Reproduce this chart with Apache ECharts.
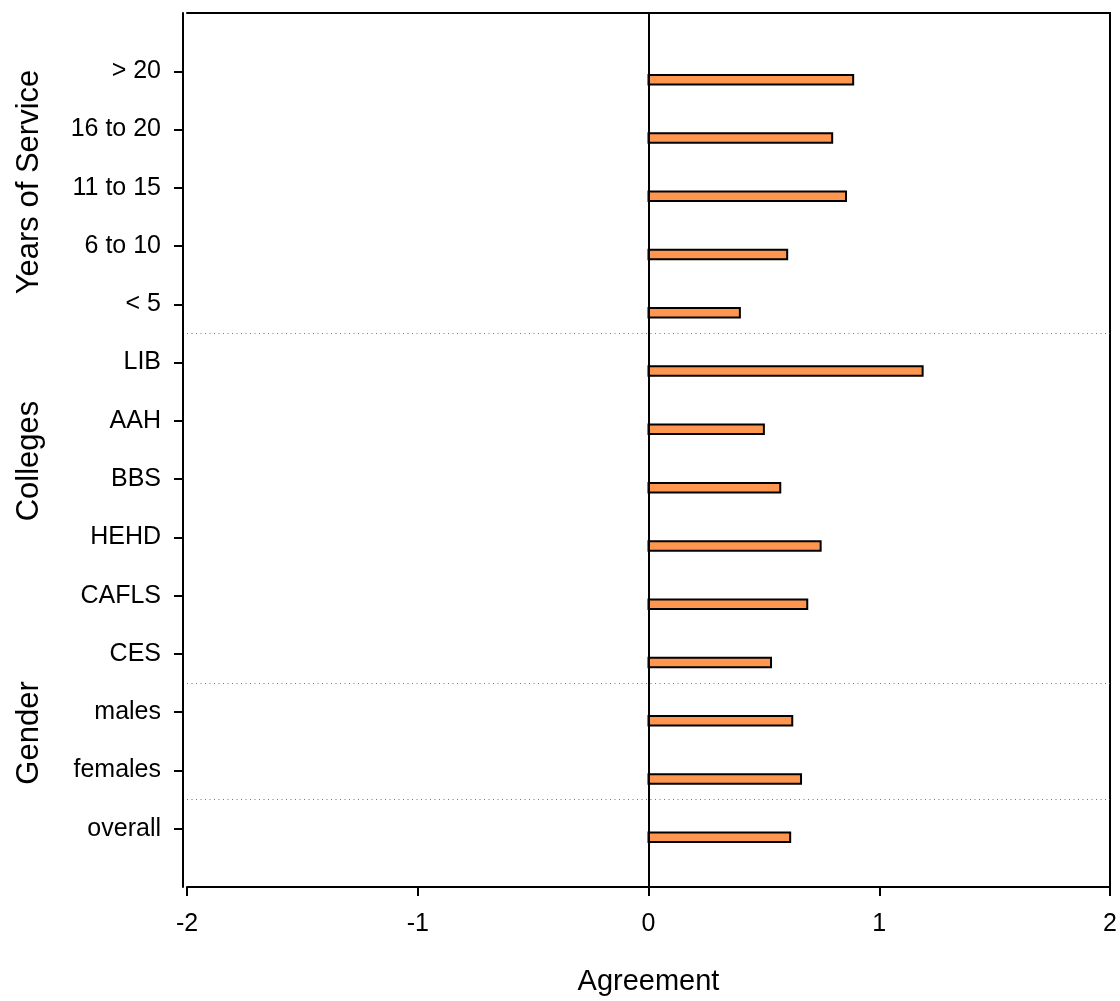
<!DOCTYPE html>
<html>
<head>
<meta charset="utf-8">
<title>Agreement by group</title>
<script src="https://cdn.jsdelivr.net/npm/echarts@6/dist/echarts.min.js"></script>
<style>
  html, body { margin: 0; padding: 0; background: #ffffff; }
  #chart { width: 1120px; height: 1001px; }
</style>
</head>
<body>
<div id="chart"></div>
<script>
// Respondent groups, listed bottom to top on the vertical axis
const categories = ['overall', 'females', 'males', 'CES', 'CAFLS', 'HEHD', 'BBS', 'AAH', 'LIB',
  '< 5', '6 to 10', '11 to 15', '16 to 20', '> 20'];
// Mean agreement score per group
const agreement = [0.614, 0.661, 0.623, 0.531, 0.688, 0.746, 0.571, 0.500, 1.188,
  0.396, 0.601, 0.856, 0.796, 0.887];
// Horizontal axis ticks
const xTicks = [-2, -1, 0, 1, 2];
// Group headings and the index of the first category belonging to each group
const groupNames = ['Gender', 'Colleges', 'Years of Service'];
const groupStarts = [1, 3, 9];

const FONT = '"Liberation Sans", Arial, Helvetica, sans-serif';
const positions = categories.map((_, i) => i + 1);
const dividers = groupStarts.map(s => s + 0.5);

const chart = echarts.init(document.getElementById('chart'), null, { renderer: 'canvas' });

const groupLabel = (text, y) => ({
  type: 'text', x: 29, y: y, rotation: Math.PI / 2,
  style: { text: text, fontFamily: FONT, fontSize: 31, fill: '#000', align: 'center', verticalAlign: 'middle' }
});

const option = {
  backgroundColor: '#ffffff',
  animation: false,
  grid: { left: 187, right: 10, top: 13, bottom: 112, containLabel: false },
  xAxis: [{
    type: 'value',
    min: xTicks[0],
    max: xTicks[xTicks.length - 1],
    interval: 1,
    position: 'bottom',
    name: 'Agreement',
    nameLocation: 'middle',
    nameGap: 80,
    nameTextStyle: { fontFamily: FONT, fontSize: 29, color: '#000' },
    axisLine: { show: true, onZero: false, lineStyle: { color: '#000', width: 2 } },
    axisTick: { show: true, inside: false, length: 9, lineStyle: { color: '#000', width: 2 } },
    axisLabel: { fontFamily: FONT, fontSize: 25, color: '#000', margin: 25 },
    splitLine: { show: false }
  }, {
    type: 'value',
    min: xTicks[0],
    max: xTicks[xTicks.length - 1],
    position: 'top',
    axisLine: { show: true, onZero: false, lineStyle: { color: '#000', width: 2 } },
    axisTick: { show: false },
    axisLabel: { show: false },
    splitLine: { show: false }
  }],
  yAxis: [{
    type: 'value',
    min: 0,
    max: categories.length + 1,
    interval: 1,
    position: 'left',
    offset: 4,
    axisLine: { show: true, onZero: false, lineStyle: { color: '#000', width: 2 } },
    axisTick: {
      show: true, inside: false, length: 9,
      customValues: positions,
      lineStyle: { color: '#000', width: 2 }
    },
    axisLabel: {
      fontFamily: FONT, fontSize: 25, color: '#000', margin: 22,
      customValues: positions,
      formatter: v => categories[Math.round(v) - 1] || ''
    },
    splitLine: { show: false }
  }, {
    type: 'value',
    min: 0,
    max: categories.length + 1,
    position: 'right',
    axisLine: { show: true, onZero: false, lineStyle: { color: '#000', width: 2 } },
    axisTick: { show: false },
    axisLabel: { show: false },
    splitLine: { show: false }
  }],
  graphic: [
    groupLabel(groupNames[2], 182),
    groupLabel(groupNames[1], 461),
    groupLabel(groupNames[0], 733)
  ],
  series: [{
    type: 'custom',
    xAxisIndex: 0,
    yAxisIndex: 0,
    data: agreement.map((v, i) => [v, positions[i]]),
    encode: { x: 0, y: 1 },
    renderItem: function (params, api) {
      const start = api.coord([0, api.value(1)]);
      const end = api.coord([api.value(0), api.value(1)]);
      const thickness = 9.5;
      const centerY = start[1] + 8.5;
      return {
        type: 'rect',
        shape: {
          x: Math.min(start[0], end[0]),
          y: centerY - thickness / 2,
          width: Math.abs(end[0] - start[0]),
          height: thickness
        },
        style: { fill: '#ff9650', stroke: '#000', lineWidth: 2 }
      };
    },
    markLine: {
      silent: true,
      symbol: 'none',
      label: { show: false },
      data: [
        { xAxis: 0, lineStyle: { color: '#000', width: 2, type: 'solid' } }
      ].concat(dividers.map(d => ({
        yAxis: d, lineStyle: { color: '#777', width: 1, type: [1, 3.5] }
      })))
    },
    z: 3
  }]
};

chart.setOption(option);
</script>
</body>
</html>
